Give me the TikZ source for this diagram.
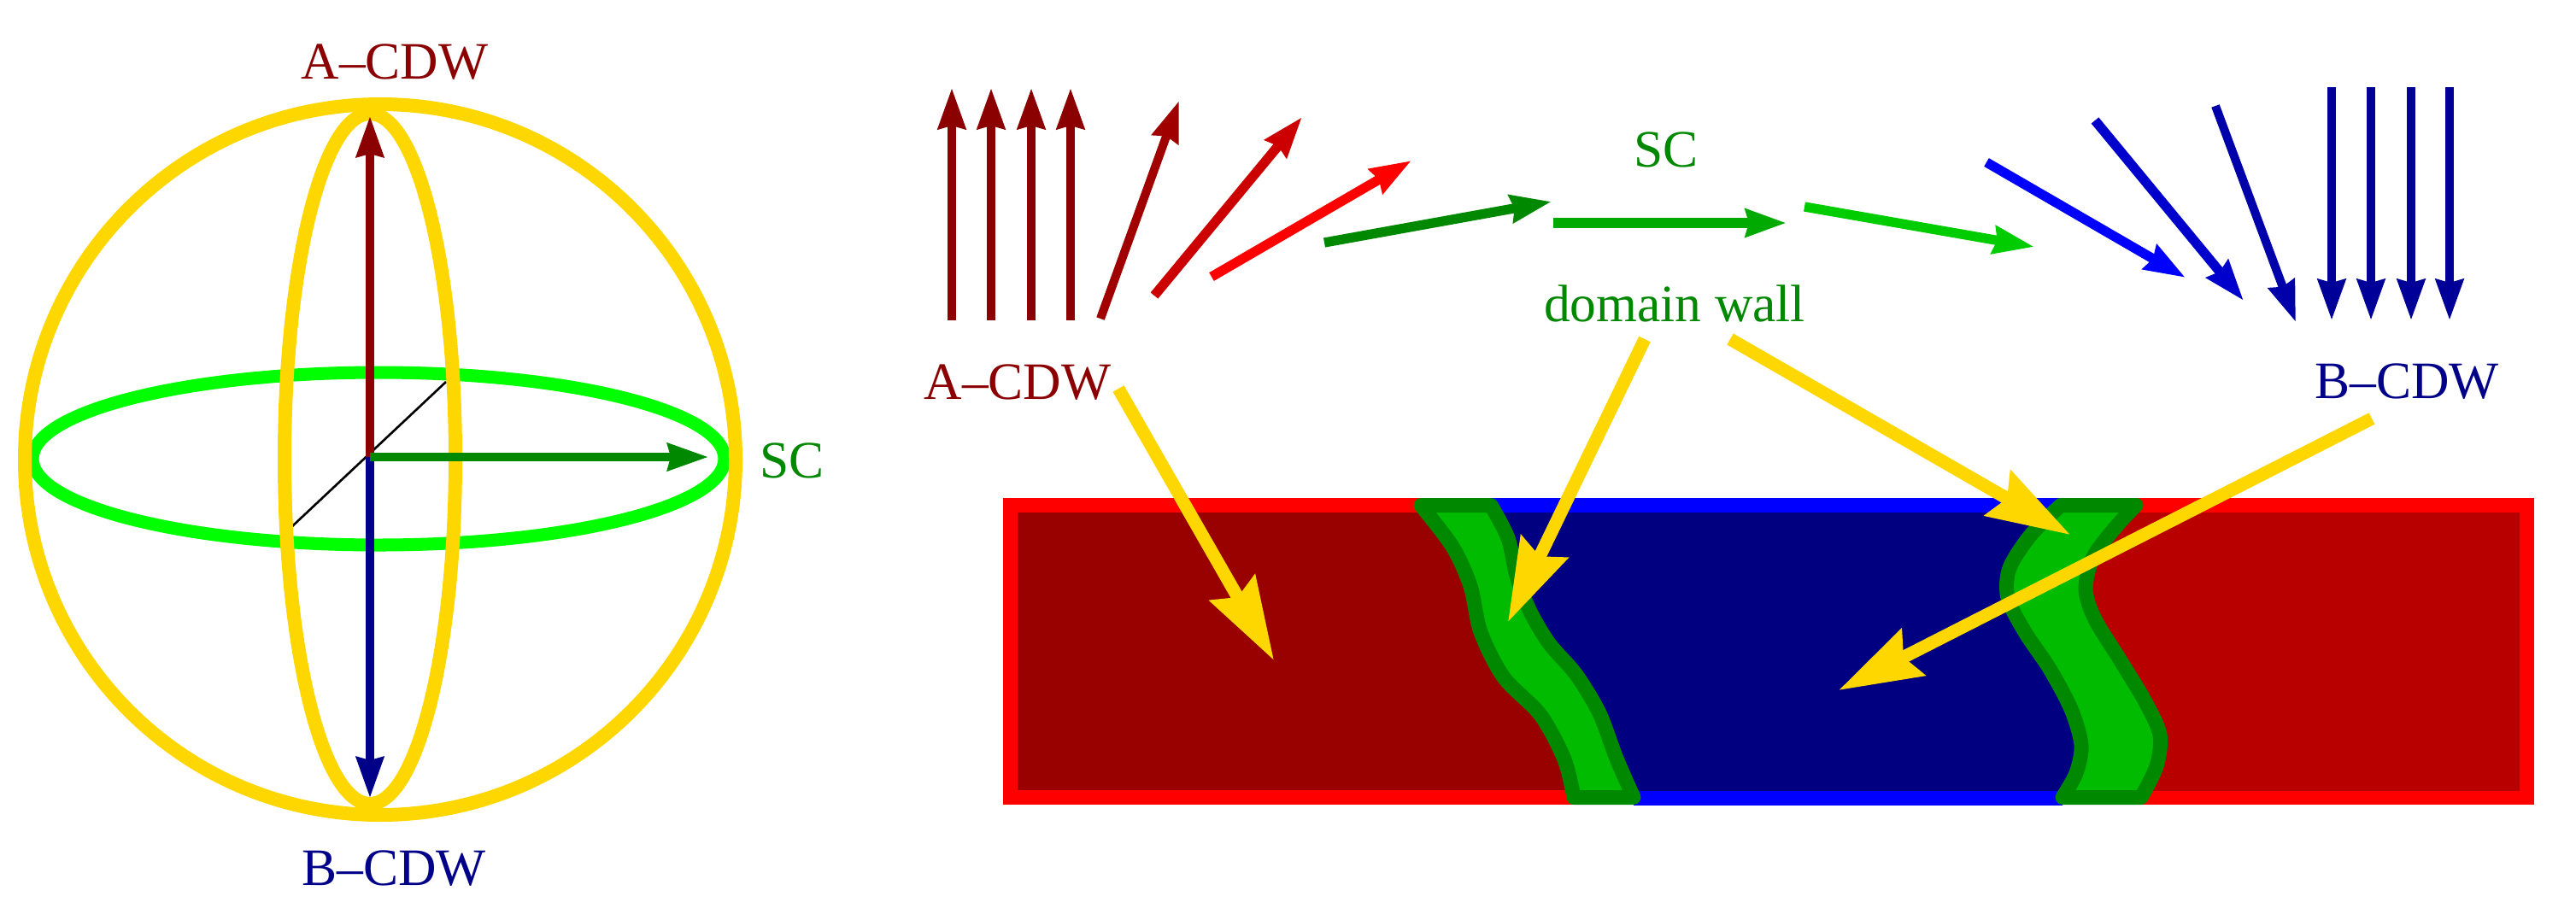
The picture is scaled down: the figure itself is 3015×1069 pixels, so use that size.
\documentclass[tikz,border=0pt]{standalone}
\usepackage{fontspec}
\setmainfont{Liberation Serif}
\usetikzlibrary{arrows.meta}
\definecolor{gold}{HTML}{FFD700}
\definecolor{lime}{HTML}{00FF00}
\definecolor{cdwA}{HTML}{8B0000}
\definecolor{cdwB}{HTML}{000088}
\definecolor{scg}{HTML}{008800}
\definecolor{tA}{HTML}{A00000}
\definecolor{tB}{HTML}{CC0000}
\definecolor{tC}{HTML}{FF0000}
\definecolor{gA}{HTML}{008800}
\definecolor{gB}{HTML}{00AA00}
\definecolor{gC}{HTML}{00CC00}
\definecolor{bA}{HTML}{0000FF}
\definecolor{bB}{HTML}{0000CC}
\definecolor{bC}{HTML}{0000AA}
\definecolor{bD}{HTML}{000099}
\definecolor{borderred}{HTML}{FF0000}
\definecolor{borderblue}{HTML}{0000FF}
\definecolor{fillleft}{HTML}{990000}
\definecolor{fillright}{HTML}{B80000}
\definecolor{fillnavy}{HTML}{000080}
\definecolor{walldark}{HTML}{008800}
\definecolor{walllight}{HTML}{00BB00}
\begin{document}
\begin{tikzpicture}[x=0.01cm,y=-0.01cm,
  lbl/.style={font=\fontsize{17.5}{21}\selectfont, anchor=base, inner sep=0pt},
  spin/.style={line width=2.85pt, -{Stealth[length=13.5pt,width=9pt,inset=1pt]}},
  spinb/.style={line width=3.2pt, -{Stealth[length=13.5pt,width=9pt,inset=1pt]}},
  axisarrow/.style={line width=2.65pt, -{Stealth[length=13.5pt,width=9pt,inset=1pt]}},
  pointer/.style={draw=gold, line width=4.27pt, -{Stealth[length=27.6pt,width=17pt,inset=3.4pt]}},
  ring/.style={line width=4.55pt},
  wallshape/.style={fill=walllight, draw=walldark, line width=4.84pt, line join=round}]
\useasboundingbox (0,0) rectangle (3015,1069);
\fill[white] (0,0) rectangle (3015,1069);

% ---------- sphere ----------
\coordinate (O) at (433,535);
\draw[black, line width=0.75pt] (340,618) -- (522,447);
\draw[lime, line width=4.27pt] (443,537) ellipse [x radius=405, y radius=101];
\draw[gold, ring] (445,538) circle [radius=416];
\draw[gold, ring] (433,537) ellipse [x radius=100, y radius=404];
\coordinate (north) at (433,136);
\coordinate (south) at (433,934);
\coordinate (east) at (829,535);
\draw[cdwA, axisarrow] (433,535) -- (north);
\draw[cdwB, axisarrow] (433,535) -- (south);
\draw[scg, axisarrow] (O) -- (east);
\node[lbl, text=cdwA] (sA) at (462,92) {A--CDW};
\node[lbl, text=cdwB] (sB) at (461,1036) {B--CDW};
\node[lbl, text=scg] (sSC) at (927,559) {SC};

% ---------- spin chain ----------
\foreach \x in {1114,1160,1207,1253} \draw[cdwA, spin] (\x,375) -- (\x,103);
\draw[tA, spin] (1288,373) -- (1380,118);
\draw[tB, spinb] (1351,346) -- (1524,137);
\draw[tC, spinb] (1418,324) -- (1652,188);
\draw[gA, spinb] (1550,284) -- (1816,236);
\draw[gB, spinb] (1818,261) -- (2091,261);
\draw[gC, spinb] (2112,242) -- (2381,289);
\draw[bA, spinb] (2325,190) -- (2558,325);
\draw[bB, spinb] (2452,141) -- (2626,352);
\draw[bC, spin] (2593,124) -- (2687,377);
\foreach \x in {2729,2775,2822,2867} \draw[bD, spin] (\x,102) -- (\x,375);

\node[lbl, text=cdwA] (rA) at (1191,467) {A--CDW};
\node[lbl, text=cdwB] (rB) at (2817,466) {B--CDW};
\node[lbl, text=scg] (rSC) at (1950,195) {SC};
\node[lbl, text=scg] (dw) at (1960,376) {domain wall};

% ---------- domain strip ----------
\begin{scope}
  \clip (1174,583) rectangle (2966,942);
  \fill[borderred] (1174,583) rectangle (2966,942);
  \fill[borderblue] (1745,560) -- plot[smooth] coordinates {(1745,591.5) (1765,630) (1775,674) (1790,714) (1813,753) (1845,790) (1872,835) (1892,888) (1912,933.5)} -- (1912,960) -- (2414,960) -- plot[smooth] coordinates {(2414,933.5) (2430,905) (2436,872) (2424,830) (2399,783) (2370,740) (2350,700) (2352,665) (2377,626) (2412,591.5)} -- (2412,560) -- cycle;
\end{scope}
\begin{scope}
  \clip (1191,600) rectangle (2949,925);
  \fill[fillleft] (1191,600) rectangle (2949,925);
  \fill[fillnavy] (1745,560) -- plot[smooth] coordinates {(1745,591.5) (1765,630) (1775,674) (1790,714) (1813,753) (1845,790) (1872,835) (1892,888) (1912,933.5)} -- (1912,960) -- (2414,960) -- plot[smooth] coordinates {(2414,933.5) (2430,905) (2436,872) (2424,830) (2399,783) (2370,740) (2350,700) (2352,665) (2377,626) (2412,591.5)} -- (2412,560) -- cycle;
  \fill[fillright] (2506,960) -- plot[smooth] coordinates {(2506,933.5) (2524,897) (2528,860) (2510,820) (2481,772) (2452,725) (2441,690) (2450,652) (2478,615) (2500,591.5)} -- (2500,560) -- (2990,560) -- (2990,960) -- cycle;
\end{scope}
\begin{scope}
  \clip (1174,583) rectangle (2966,942);
  \path[wallshape] plot[smooth] coordinates {(1663,591.5) (1700,640) (1721,686) (1733,740) (1760,793) (1803,837) (1831,889) (1842,933.5)} -- plot[smooth] coordinates {(1912,933.5) (1892,888) (1872,835) (1845,790) (1813,753) (1790,714) (1775,674) (1765,630) (1745,591.5)} -- cycle;
  \path[wallshape] plot[smooth] coordinates {(2412,591.5) (2377,626) (2352,665) (2350,700) (2370,740) (2399,783) (2424,830) (2436,872) (2430,905) (2414,933.5)} -- plot[smooth] coordinates {(2506,933.5) (2524,897) (2528,860) (2510,820) (2481,772) (2452,725) (2441,690) (2450,652) (2478,615) (2500,591.5)} -- cycle;
\end{scope}

% ---------- pointers ----------
\coordinate (p1s) at (1309,455);
\coordinate (p1e) at (1491,773);
\coordinate (p2s) at (1925,397);
\coordinate (p2e) at (1765,728);
\coordinate (p3s) at (2025,397);
\coordinate (p3e) at (2423,626);
\coordinate (p4s) at (2776,490);
\coordinate (p4e) at (2152,808);
\draw[pointer] (p1s) -- (p1e);
\draw[pointer] (p2s) -- (p2e);
\draw[pointer] (p3s) -- (p3e);
\draw[pointer] (p4s) -- (p4e);
\end{tikzpicture}
\end{document}
